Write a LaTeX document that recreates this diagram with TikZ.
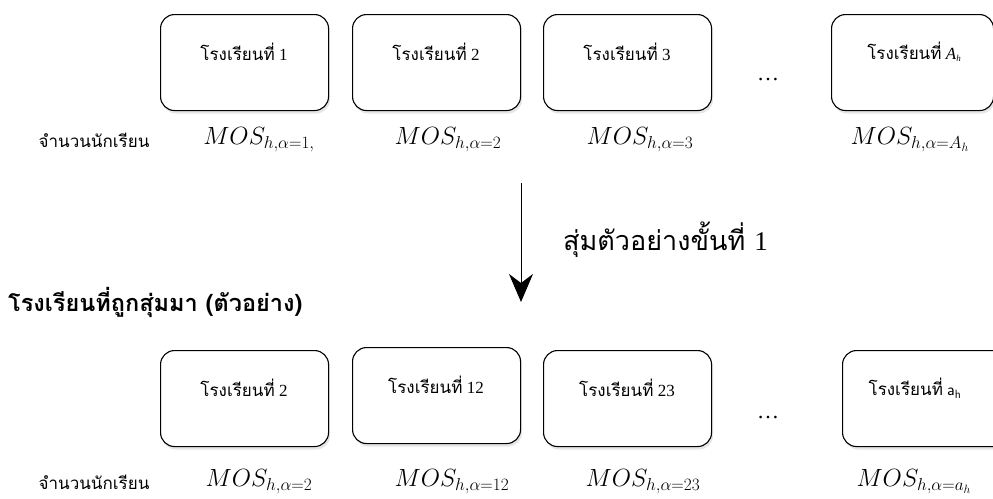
\documentclass[tikz,border=0pt]{standalone}
\usepackage{fontspec}
\setmainfont{Liberation Serif}
\newfontfamily\thai[Script=Thai]{Loma}
\usetikzlibrary{shadows,arrows.meta}
\tikzset{
  school/.style={draw=black, line width=1.1pt, rounded corners=14pt, fill=white,
    minimum width=168pt, minimum height=96pt, anchor=north west,
    drop shadow={shadow xshift=1.5pt, shadow yshift=-3pt, fill=black!12, opacity=0.8}},
  boxtext/.style={font=\fontsize{17}{20}\selectfont, inner sep=0pt},
  mos/.style={font=\fontsize{26}{28}\selectfont, inner sep=0pt},
  rowlab/.style={font=\thai\fontsize{17}{20}\selectfont, inner sep=0pt},
  dots/.style={font=\fontsize{22}{24}\selectfont, inner sep=0pt}
}
\begin{document}
\begin{tikzpicture}[x=1pt,y=-1pt]
\useasboundingbox (0,0) rectangle (993,498);
\clip (0,0) rectangle (993,498);
% top row
\node[school] (t1) at (160,14) {};
\node[school] (t2) at (352,14) {};
\node[school] (t3) at (543,14) {};
\node[school, minimum width=162pt] (t4) at (831,14) {};
\node[boxtext] (tt1) at (244,52) {{\thai โรงเรียนที่} 1};
\node[boxtext] (tt2) at (436,52) {{\thai โรงเรียนที่} 2};
\node[boxtext] (tt3) at (627,52) {{\thai โรงเรียนที่} 3};
\node[boxtext] (tt4) at (914,52) {{\thai โรงเรียนที่} \textit{A}\raisebox{-2pt}{\fontsize{9}{10}\selectfont\textit{h}}};
\node[dots] (td) at (768,80) {\dots};
\node[rowlab] (tl) at (94,140) {จำนวนนักเรียน};
\node[mos] (tm1) at (259,140) {$MOS_{h,\alpha=1,}$};
\node[mos] (tm2) at (448,140) {$MOS_{h,\alpha=2}$};
\node[mos] (tm3) at (640,140) {$MOS_{h,\alpha=3}$};
\node[mos] (tm4) at (910,140) {$MOS_{h,\alpha=A_h}$};
% arrow
\coordinate (as) at (521,183);
\coordinate (ae) at (521,302);
\draw[line width=1pt, -{Stealth[length=28pt,width=24pt,inset=9pt]}] (as) -- (ae);
\node[font=\thai\fontsize{27}{31}\selectfont, inner sep=0pt, anchor=west] (al) at (563,240) {สุ่มตัวอย่างขั้นที่ {\rmfamily 1}};
\node[font=\thai\bfseries\fontsize{23.5}{27}\selectfont, inner sep=0pt, anchor=west] (hd) at (8,302) {โรงเรียนที่ถูกสุ่มมา (ตัวอย่าง)};
% bottom row
\node[school] (b1) at (160,350) {};
\node[school] (b2) at (352,347) {};
\node[school] (b3) at (543,350) {};
\node[school, minimum width=170pt] (b4) at (842,350) {};
\node[boxtext] (bt1) at (244,388) {{\thai โรงเรียนที่} 2};
\node[boxtext] (bt2) at (436,385) {{\thai โรงเรียนที่} 12};
\node[boxtext] (bt3) at (627,388) {{\thai โรงเรียนที่} 23};
\node[boxtext] (bt4) at (915,388) {{\thai โรงเรียนที่} $\mathsf{a}_{\mathsf{h}}$};
\node[dots] (bd) at (768,418) {\dots};
\node[rowlab] (bl) at (94,482) {จำนวนนักเรียน};
\node[mos] (bm1) at (259,482) {$MOS_{h,\alpha=2}$};
\node[mos] (bm2) at (452,482) {$MOS_{h,\alpha=12}$};
\node[mos] (bm3) at (643,482) {$MOS_{h,\alpha=23}$};
\node[mos] (bm4) at (914,482) {$MOS_{h,\alpha=a_h}$};
\end{tikzpicture}
\end{document}
